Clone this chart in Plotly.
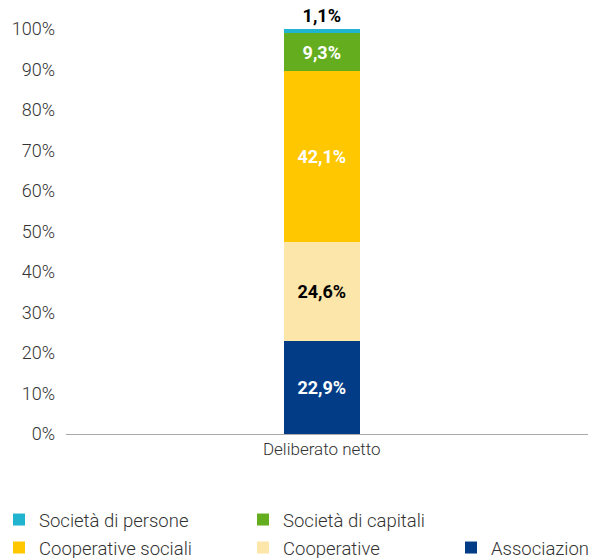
import plotly.graph_objects as go

category = ["Deliberato netto"]
series_names = ["Associazioni", "Cooperative", "Cooperative sociali", "Società di capitali", "Società di persone"]
values = [[22.9], [24.6], [42.1], [9.3], [1.1]]
colors = ["#023C87", "#FDE6A9", "#FEC700", "#64AD1E", "#20B4CF"]
text_colors = ["#FFFFFF", "#000000", "#FFFFFF", "#FFFFFF", "#000000"]
y_ticks = [0, 10, 20, 30, 40, 50, 60, 70, 80, 90, 100]
y_ticktext = [f"{v}%" for v in y_ticks]

# legend placement: (left px, row-centre px); converted below
PLOT_L, PLOT_W = 66, 522
legend_pos = {
    "Associazioni": (451, 548),
    "Cooperative": (243, 548),
    "Cooperative sociali": (-1, 548),
    "Società di capitali": (243, 520),
    "Società di persone": (-1, 520),
}

fig = go.Figure()
legend_ids = ["legend", "legend2", "legend3", "legend4", "legend5"]
for i, name in enumerate(series_names):
    last = i == len(series_names) - 1
    fig.add_trace(go.Bar(
        x=category, y=values[i], name=name,
        marker=dict(color=colors[i], line=dict(width=0)),
        texttemplate="%{y:.1f}%",
        textposition="outside" if last else "inside",
        insidetextanchor="middle",
        textangle=0,
        textfont=dict(family="Roboto", size=18, color=text_colors[i], weight="bold"),
        cliponaxis=False,
        legend=legend_ids[i],
        hoverinfo="skip",
    ))

layout_legends = {}
for i, name in enumerate(series_names):
    px, py = legend_pos[name]
    layout_legends[legend_ids[i]] = dict(
        x=(px - PLOT_L) / PLOT_W, y=(558 - py) / 558,
        xref="paper", yref="container",
        xanchor="left", yanchor="middle",
        font=dict(family="Roboto", size=18.5, color="#333333", weight=300),
        bgcolor="rgba(0,0,0,0)",
    )

fig.update_layout(
    barmode="stack",
    bargap=0.854,
    separators=",.",
    showlegend=True,
    width=590, height=558,
    margin=dict(l=PLOT_L, r=2, t=29, b=124, autoexpand=False),
    plot_bgcolor="white", paper_bgcolor="white",
    font=dict(family="Roboto", size=16, color="#333333"),
    **layout_legends,
)
fig.update_xaxes(
    range=[-0.49, 0.51],
    showline=True, linecolor="#AAAAAA", linewidth=1,
    ticks="", tickfont=dict(size=17, color="#333333", weight=300),
    showgrid=False, zeroline=False,
)
fig.update_yaxes(
    range=[0, 100], tickmode="array", tickvals=y_ticks, ticktext=y_ticktext,
    showgrid=False, zeroline=False, showline=False,
    tickfont=dict(size=18, color="#333333", weight=300),
    ticklabelstandoff=10,
)
fig.write_html(
    "out.html",
    config={"displayModeBar": False},
    post_script="document.body.style.margin='0';document.body.style.overflow='hidden';",
)
